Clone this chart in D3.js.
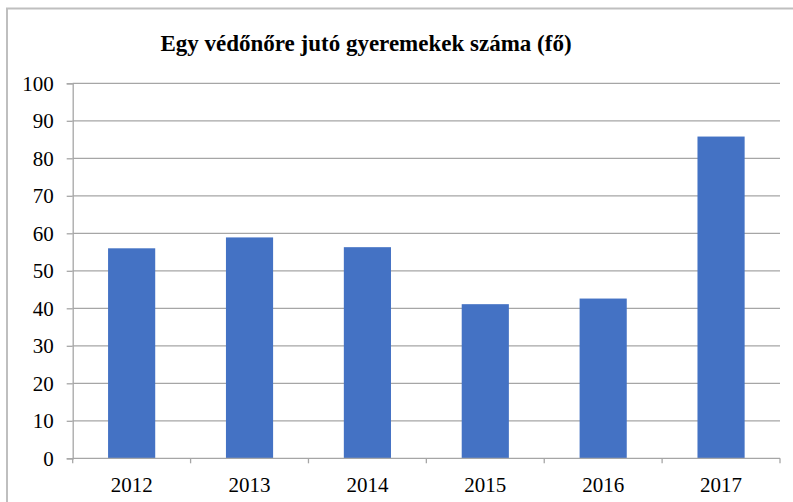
<!DOCTYPE html>
<html>
<head>
<meta charset="utf-8">
<script src="https://cdn.jsdelivr.net/npm/d3@7"></script>
<style>
    body { margin: 0; background: #fff; }
    svg { display: block; }
    text { font-family: "Liberation Serif", "Times New Roman", serif; }
</style>
</head>
<body>
<script>
var years = ["2012", "2013", "2014", "2015", "2016", "2017"];
var values = [56.0, 58.9, 56.3, 41.1, 42.6, 85.8];
var yTicks = [0, 10, 20, 30, 40, 50, 60, 70, 80, 90, 100];
var title = "Egy védőnőre jutó gyeremekek száma (fő)";

var width = 793, height = 502;
var plotLeft = 72.7, plotRight = 780, plotTop = 83.3, plotBottom = 458.3;

var svg = d3.select("body")
    .append("svg")
    .attr("width", width)
    .attr("height", height)

// chart border
svg.append("rect")
    .attr("x", 7)
    .attr("y", 8.5)
    .attr("width", 820)
    .attr("height", 520)
    .attr("fill", "none")
    .attr("stroke", "#bfbfbf")
    .attr("stroke-width", 2)

svg.append("text")
    .attr("x", 366)
    .attr("y", 51)
    .attr("text-anchor", "middle")
    .attr("font-weight", "bold")
    .attr("font-size", 23)
    .text(title)

var x = d3.scaleBand().domain(years)
    .range([plotLeft, plotRight])
    .paddingInner(0.6)
    .paddingOuter(0.3)
var y = d3.scaleLinear().domain([0, 100])
    .range([plotBottom, plotTop])

// gridlines
svg.append("g")
    .selectAll("line")
    .data(yTicks.slice(1))
    .enter()
    .append("line")
    .attr("x1", plotLeft)
    .attr("x2", plotRight)
    .attr("y1", function(d) { return y(d) })
    .attr("y2", function(d) { return y(d) })
    .attr("stroke", "#a6a6a6")
    .attr("stroke-width", 1.3)

svg.selectAll("rect.bar")
    .data(values)
    .enter()
    .append("rect")
    .attr("class", "bar")
    .attr("x", function(d, i) { return x(years[i]) })
    .attr("width", x.bandwidth())
    .attr("y", function(d) { return y(d) })
    .attr("height", function(d) { return plotBottom - y(d) })
    .attr("fill", "#4472c4")

var yAxis = svg.append("g")
    .attr("transform", "translate(" + plotLeft + ",0)")
    .call(d3.axisLeft(y).tickValues(yTicks).tickSize(6).tickPadding(13).tickFormat(d3.format("d")))

var xb = d3.scaleBand().domain(years).range([plotLeft, plotRight])
var xAxis = svg.append("g")
    .attr("transform", "translate(0," + plotBottom + ")")
    .call(d3.axisBottom(xb).tickSize(0).tickPadding(19))

// category boundary ticks
svg.append("g")
    .selectAll("line")
    .data(years.concat(["end"]))
    .enter()
    .append("line")
    .attr("x1", function(d, i) { return plotLeft + i * xb.step() })
    .attr("x2", function(d, i) { return plotLeft + i * xb.step() })
    .attr("y1", plotBottom)
    .attr("y2", plotBottom + 5)
    .attr("stroke", "#a6a6a6")
    .attr("stroke-width", 1.3)

svg.selectAll(".domain").attr("stroke", "#a6a6a6").attr("stroke-width", 1.3)
svg.selectAll(".tick line").attr("stroke", "#a6a6a6").attr("stroke-width", 1.3)
svg.selectAll(".tick text")
    .attr("font-family", null)
    .attr("font-size", 21)
    .attr("fill", "#000")
xAxis.selectAll(".domain").attr("d", "M" + plotLeft + ",0H" + plotRight)
</script>
</body>
</html>
